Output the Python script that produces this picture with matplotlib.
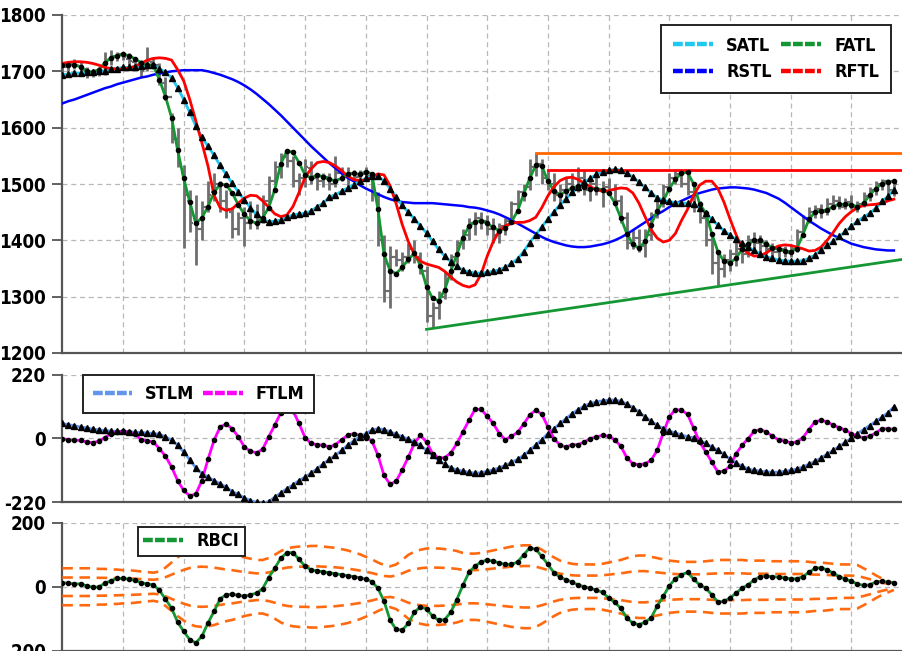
import os
import numpy as np
import matplotlib
matplotlib.use("Agg")
import matplotlib.pyplot as plt
from matplotlib.lines import Line2D
from matplotlib import font_manager as fm

# ---------- font: look for an installed condensed / narrow face ----------
def find_condensed():
    files = set(f.fname for f in fm.fontManager.ttflist)
    try:
        files |= set(fm.findSystemFonts())
    except Exception:
        pass
    files = sorted(files)
    prefs = ["liberationsansnarrow-bold", "dejavusanscondensed-bold",
             "robotocondensed-bold", "roboto_condensed-bold", "opensanscondensed-bold",
             "opensans_condensed-bold", "notosans-condensedbold", "notosanscondensed-bold"]
    for p in prefs:
        for fn in files:
            if os.path.basename(fn).lower().startswith(p):
                return fn
    for fn in files:
        b = os.path.basename(fn).lower()
        if ("condensed" in b or "narrow" in b) and "bold" in b and "italic" not in b and "oblique" not in b:
            return fn
    return None

FONT_FILE = find_condensed()
if FONT_FILE:
    fm.fontManager.addfont(FONT_FILE)
    FP = fm.FontProperties(fname=FONT_FILE)
    TICK_SIZE, LEG_SIZE = 13.5, 13
else:
    FP = fm.FontProperties(family="DejaVu Sans", weight="bold")
    TICK_SIZE, LEG_SIZE = 11.5, 12

def fprop(size):
    p = FP.copy()
    p.set_size(size)
    return p

# ---------------- data ----------------
satl = [1694,1695,1697,1697,1698,1698,1700,1701,1704,1705,
        1707,1707,1708,1710,1711,1711,1705,1698,1689,1671,
        1650,1627,1603,1583,1567,1551,1533,1517,1501,1486,
        1471,1458,1446,1437,1433,1434,1436,1441,1445,1447,
        1448,1452,1460,1466,1477,1481,1487,1493,1499,1505,
        1510,1514,1514,1505,1492,1477,1462,1450,1438,1426,
        1413,1398,1384,1372,1362,1354,1347,1344,1342,1342,
        1343,1345,1348,1352,1359,1367,1380,1396,1410,1424,
        1438,1451,1463,1474,1485,1495,1503,1510,1517,1521,
        1524,1526,1525,1520,1512,1503,1494,1484,1476,1471,
        1469,1467,1466,1466,1464,1458,1448,1437,1427,1417,
        1409,1402,1395,1388,1382,1376,1371,1368,1365,1364,
        1363,1363,1364,1368,1374,1383,1391,1398,1407,1416,
        1425,1434,1441,1448,1457,1469,1478,1490]
fatl = [1712,1712,1712,1708,1700,1699,1703,1715,1724,1728,
        1730,1728,1722,1715,1712,1711,1685,1655,1618,1560,
        1510,1468,1430,1440,1460,1485,1500,1498,1484,1463,
        1446,1435,1430,1440,1458,1490,1536,1559,1556,1538,
        1516,1511,1516,1513,1508,1506,1510,1517,1519,1517,
        1522,1518,1455,1375,1346,1341,1352,1366,1377,1355,
        1318,1297,1293,1312,1345,1375,1405,1425,1433,1435,
        1430,1423,1417,1422,1433,1452,1482,1510,1533,1532,
        1505,1488,1481,1487,1493,1496,1494,1491,1492,1490,
        1484,1467,1440,1412,1393,1386,1398,1428,1452,1470,
        1492,1508,1519,1521,1500,1465,1448,1412,1380,1363,
        1360,1368,1385,1393,1400,1400,1393,1387,1384,1381,
        1380,1385,1410,1437,1450,1452,1454,1460,1464,1464,
        1463,1460,1466,1480,1492,1500,1504,1505]
rstl = [1643,1647,1650,1654,1658,1662,1666,1670,1673,1677,
        1680,1683,1686,1689,1691,1694,1696,1698,1700,1701,
        1702,1702,1702,1702,1700,1697,1694,1690,1686,1681,
        1675,1668,1660,1651,1642,1632,1622,1611,1600,1589,
        1578,1567,1557,1547,1537,1528,1519,1511,1505,1498,
        1492,1487,1482,1477,1473,1470,1468,1467,1466,1466,
        1466,1466,1465,1464,1463,1462,1461,1459,1458,1456,
        1453,1450,1446,1441,1436,1430,1424,1418,1412,1406,
        1401,1397,1394,1391,1389,1388,1388,1389,1391,1393,
        1396,1400,1405,1411,1418,1425,1432,1439,1446,1452,
        1459,1465,1470,1475,1480,1484,1487,1490,1492,1493,
        1494,1494,1493,1492,1490,1487,1484,1479,1474,1467,
        1459,1451,1443,1435,1428,1421,1415,1409,1404,1399,
        1394,1391,1388,1386,1384,1383,1382,1382]
rftl = [1714,1716,1717,1717,1716,1714,1711,1707,1705,1704,
        1704,1706,1709,1714,1720,1723,1724,1723,1720,1703,
        1683,1650,1612,1573,1532,1480,1458,1453,1456,1466,
        1475,1480,1479,1470,1459,1447,1442,1445,1460,1485,
        1512,1527,1538,1540,1538,1532,1524,1514,1508,1506,
        1507,1512,1518,1516,1497,1465,1428,1398,1375,1363,
        1358,1355,1352,1345,1335,1326,1320,1317,1321,1340,
        1372,1398,1417,1426,1430,1432,1432,1435,1441,1458,
        1479,1495,1506,1511,1512,1508,1501,1495,1490,1487,
        1488,1491,1493,1492,1484,1466,1442,1419,1404,1397,
        1400,1412,1435,1455,1480,1498,1505,1505,1492,1468,
        1438,1410,1386,1377,1372,1373,1378,1385,1390,1392,
        1391,1388,1385,1381,1382,1388,1400,1414,1430,1442,
        1451,1458,1462,1463,1464,1466,1470,1473]

opens = [1705,1708,1712,1710,1704,1695,1700,1700,1720,1726,
         1730,1722,1716,1712,1704,1716,1712,1680,1655,1580,
         1520,1470,1440,1420,1460,1485,1500,1470,1450,1420,
         1440,1430,1445,1435,1470,1505,1530,1548,1540,1505,
         1510,1528,1510,1505,1512,1500,1520,1515,1520,1512,
         1518,1515,1480,1400,1310,1370,1365,1370,1385,1370,
         1345,1265,1280,1300,1340,1370,1395,1410,1430,1440,
         1435,1420,1410,1425,1435,1465,1485,1495,1530,1535,
         1510,1500,1480,1490,1500,1495,1510,1490,1500,1490,
         1495,1490,1470,1440,1395,1405,1390,1410,1445,1470,
         1495,1510,1518,1500,1485,1460,1440,1400,1360,1350,
         1365,1375,1385,1375,1400,1395,1390,1385,1380,1385,
         1378,1385,1415,1440,1450,1455,1450,1465,1470,1460,
         1468,1460,1465,1478,1490,1500,1505,1490]
highs = [1712,1718,1722,1716,1708,1705,1708,1735,1738,1734,
         1735,1732,1725,1720,1744,1725,1715,1690,1626,1600,
         1534,1490,1480,1470,1505,1520,1505,1490,1460,1450,
         1460,1470,1465,1480,1515,1540,1555,1560,1550,1520,
         1545,1540,1520,1520,1520,1550,1530,1530,1525,1525,
         1530,1520,1485,1410,1390,1385,1380,1395,1400,1380,
         1355,1290,1310,1345,1375,1400,1420,1440,1450,1450,
         1445,1440,1430,1440,1470,1490,1500,1545,1555,1545,
         1525,1520,1500,1510,1520,1530,1525,1510,1515,1505,
         1510,1500,1480,1450,1420,1420,1420,1450,1480,1500,
         1520,1525,1525,1520,1495,1470,1450,1410,1375,1375,
         1385,1400,1395,1410,1415,1410,1400,1395,1392,1390,
         1392,1420,1445,1460,1462,1465,1475,1480,1478,1475,
         1480,1470,1485,1495,1505,1508,1508,1505]
lows = [1695,1700,1705,1700,1688,1690,1692,1694,1712,1718,
        1720,1712,1705,1690,1700,1705,1675,1649,1573,1530,
        1387,1415,1357,1400,1450,1470,1450,1440,1405,1410,
        1390,1420,1420,1430,1465,1500,1510,1530,1495,1480,
        1495,1500,1490,1495,1490,1495,1505,1495,1505,1500,
        1505,1470,1390,1290,1280,1355,1345,1360,1360,1340,
        1255,1245,1260,1295,1330,1360,1385,1400,1410,1420,
        1410,1395,1395,1410,1430,1460,1470,1490,1515,1500,
        1490,1470,1460,1470,1480,1485,1480,1470,1480,1460,
        1480,1465,1430,1385,1385,1380,1370,1400,1440,1460,
        1485,1500,1495,1480,1450,1430,1390,1340,1320,1335,
        1345,1355,1360,1370,1380,1380,1375,1370,1370,1370,
        1370,1380,1410,1430,1440,1440,1445,1455,1455,1455,
        1455,1450,1460,1470,1480,1490,1480,1478]
closes = [1708,1712,1710,1704,1695,1700,1698,1720,1728,1730,
          1725,1718,1712,1700,1718,1712,1680,1655,1580,1540,
          1480,1430,1420,1460,1480,1500,1470,1455,1420,1440,
          1430,1450,1435,1470,1505,1530,1548,1540,1505,1510,
          1530,1510,1505,1515,1500,1520,1515,1520,1512,1520,
          1515,1480,1400,1310,1370,1365,1370,1385,1370,1345,
          1265,1280,1300,1340,1370,1395,1410,1430,1440,1435,
          1420,1410,1425,1435,1465,1485,1495,1530,1535,1510,
          1500,1480,1490,1500,1495,1510,1490,1500,1490,1495,
          1490,1470,1440,1395,1405,1390,1410,1445,1470,1495,
          1510,1518,1500,1485,1460,1440,1400,1360,1350,1365,
          1375,1385,1375,1400,1395,1390,1385,1380,1385,1378,
          1385,1415,1440,1450,1455,1450,1465,1470,1460,1468,
          1460,1465,1478,1490,1500,1505,1490,1500]

support_bars = [60, 108]
support_vals = [1242, 1318]
resist_orange = (78, 1555)
resist_red = (80, 1525)

stlm = [51,47,43,39,36,32,29,27,25,24,
        24,23,21,20,18,17,14,5,-7,-24,
        -47,-74,-102,-122,-134,-146,-157,-169,-184,-194,
        -206,-215,-221,-224,-219,-203,-189,-174,-161,-146,
        -134,-120,-105,-88,-73,-59,-42,-24,-9,5,
        16,28,33,30,22,14,5,-3,-13,-24,
        -42,-59,-76,-90,-102,-109,-113,-118,-120,-119,
        -114,-109,-102,-94,-83,-73,-59,-42,-23,-5,
        16,33,51,68,85,99,111,120,126,129,
        132,132,128,118,106,91,74,59,45,33,
        25,18,12,5,2,-7,-18,-30,-42,-55,
        -73,-85,-97,-106,-111,-113,-116,-117,-117,-114,
        -111,-106,-99,-90,-80,-68,-55,-42,-28,-14,
        1,16,30,44,58,72,88,108]
ftlm = [-1,-5,-7,-7,-13,-15,-10,2,16,22,
        24,20,13,-5,-9,-13,-36,-62,-99,-146,
        -180,-199,-192,-146,-73,-7,39,49,33,5,
        -30,-45,-50,-38,5,45,88,114,95,51,
        2,-18,-22,-24,-30,-22,-5,10,16,10,
        2,-9,-59,-128,-159,-148,-109,-65,-18,10,
        -13,-53,-68,-67,-51,-18,22,62,100,100,
        76,51,16,-5,7,20,49,80,97,83,
        39,-1,-24,-30,-22,-22,-13,-1,5,10,
        7,-5,-27,-67,-88,-91,-88,-76,-42,18,
        74,99,97,83,35,-13,-47,-82,-117,-113,
        -97,-53,-24,-1,25,30,22,7,-5,-10,
        -15,-13,2,30,57,62,57,45,37,28,
        16,7,2,7,18,33,33,31]

rbci = [13,11,9,9,3,-1,-1,11,19,26,
        26,24,20,13,9,6,-11,-39,-67,-111,
        -140,-166,-176,-155,-114,-77,-38,-25,-23,-27,
        -30,-25,-20,-6,29,58,90,107,107,86,
        64,53,50,47,44,41,38,35,32,28,
        24,16,-5,-45,-105,-134,-136,-115,-80,-63,
        -70,-92,-105,-103,-80,-40,5,45,65,78,
        84,80,75,70,70,78,100,122,118,95,
        70,44,30,22,14,6,0,-5,-10,-18,
        -35,-49,-67,-98,-114,-119,-111,-98,-61,-30,
        3,25,38,45,24,6,-4,-25,-48,-46,
        -35,-20,-4,6,22,32,34,32,30,28,
        25,25,32,45,58,60,53,43,32,24,
        17,9,4,6,15,17,15,13]
rbci_sigma = [29,29,29,29,29,29,28,28,27,27,
              26,26,25,24,23,22,24,30,38,46,
              53,59,62,63,62,60,57,54,52,49,
              46,44,42,42,45,50,56,60,62,63,
              63,64,64,63,62,61,59,57,54,51,
              47,43,38,34,32,35,42,50,55,58,
              60,60,60,59,58,56,53,52,52,53,
              55,57,59,61,63,64,65,65,63,58,
              52,46,41,38,36,35,35,35,35,36,
              38,40,42,45,48,49,49,47,45,43,
              41,40,39,39,39,39,40,41,42,42,
              42,42,42,41,41,41,41,40,40,40,
              40,40,40,39,38,38,37,36,35,35,
              35,34,29,24,18,13,9,5]
band_mult = [2, 1, -1, -2]

top_ticks = [1200, 1300, 1400, 1500, 1600, 1700, 1800]
mid_ticks = [-220, 0, 220]
bot_ticks = [-200, 0, 200]

# ---------------- layout ----------------
W_PX, H_PX = 903, 651
fig = plt.figure(figsize=(W_PX / 100, H_PX / 100), dpi=100)
L_PX = 62.3
BAR_PX = 6.07
axw_px = W_PX - L_PX + 6
def fa(top, bottom):
    return [L_PX / W_PX, (H_PX - bottom) / H_PX, axw_px / W_PX, (bottom - top) / H_PX]

ax1 = fig.add_axes(fa(15, 353))
ax2 = fig.add_axes(fa(374.5, 502))
ax3 = fig.add_axes(fa(523, 650.5))

n = len(satl)
x = np.arange(n)
xmax = axw_px / BAR_PX

GRID = dict(color="#b8b8b8", linestyle=(0, (4, 3)), linewidth=0.9)

def style(ax, ylim, yt):
    ax.set_xlim(0, xmax)
    ax.set_ylim(*ylim)
    ax.set_xticks(np.arange(10, n, 10))
    ax.set_yticks(yt)
    ax.set_yticklabels([str(v) for v in yt], fontproperties=fprop(TICK_SIZE))
    ax.tick_params(axis="x", length=0, labelbottom=False)
    ax.tick_params(axis="y", length=7, width=1.3, color="#555555", pad=5)
    ax.grid(True, **GRID)
    ax.set_axisbelow(True)
    for s in ("top", "right"):
        ax.spines[s].set_visible(False)
    for s in ("left", "bottom"):
        ax.spines[s].set_color("#555555")
        ax.spines[s].set_linewidth(1.6)

style(ax1, (1200, 1800), top_ticks)
style(ax2, (-220, 220), mid_ticks)
style(ax3, (-200, 200), bot_ticks)

# ---- top panel ----
C_SATL, C_RSTL, C_FATL, C_RFTL = "#1ec8f0", "#0000ff", "#149632", "#ff0000"
o = np.array(opens); h = np.array(highs); lo = np.array(lows); c = np.array(closes)
ax1.vlines(x, lo, h, color="#6e6e6e", linewidth=2.0, zorder=2)
ax1.hlines(o, x - 0.5, x, color="#6e6e6e", linewidth=1.6, zorder=2)
ax1.hlines(c, x, x + 0.5, color="#6e6e6e", linewidth=1.6, zorder=2)

ax1.plot(x, rstl, color=C_RSTL, lw=1.8, zorder=3)
ax1.plot(x, satl, color=C_SATL, lw=2.0, zorder=4)
ax1.plot(x, satl, linestyle="none", marker="^", ms=4.2, color="black", zorder=5)
ax1.plot(x, fatl, color=C_FATL, lw=2.0, zorder=4)
ax1.plot(x, fatl, linestyle="none", marker="o", ms=3.0, color="black", zorder=5)
ax1.plot(x, rftl, color=C_RFTL, lw=2.0, zorder=4)

slope = (support_vals[1] - support_vals[0]) / (support_bars[1] - support_bars[0])
ax1.plot([support_bars[0], xmax], [support_vals[0], support_vals[0] + slope * (xmax - support_bars[0])],
         color=C_FATL, lw=2.0, zorder=4)
ax1.plot([resist_orange[0], xmax], [resist_orange[1]] * 2, color="#ff6600", lw=2.0, zorder=4)
ax1.plot([resist_red[0], xmax], [resist_red[1]] * 2, color="#ff0000", lw=2.0, zorder=4)

def h_(col):
    return Line2D([0], [0], color=col, lw=3.2, linestyle=(0, (2.2, 0.5)))

LEG = dict(bbox_transform=fig.transFigure, fancybox=False, framealpha=1,
           edgecolor="#222222", prop=fprop(LEG_SIZE), borderaxespad=0)

leg1 = ax1.legend([h_(C_SATL), h_(C_RSTL), h_(C_FATL), h_(C_RFTL)],
                  ["SATL", "RSTL", "FATL", "RFTL"], ncol=2,
                  loc="upper right", bbox_to_anchor=(891 / W_PX, 1 - 25 / H_PX),
                  handlelength=2.2, columnspacing=0.5, labelspacing=0.45,
                  handletextpad=0.75, borderpad=0.65, **LEG)
leg1.get_frame().set_linewidth(1.4)

# ---- middle panel ----
ax2.plot(x, stlm, color="#6495ed", lw=2.0, zorder=3)
ax2.plot(x, stlm, linestyle="none", marker="^", ms=4.2, color="black", zorder=5)
ax2.plot(x, ftlm, color="#ff00ff", lw=2.0, zorder=4)
ax2.plot(x, ftlm, linestyle="none", marker="o", ms=3.0, color="black", zorder=5)
leg2 = ax2.legend([h_("#6495ed"), h_("#ff00ff")], ["STLM", "FTLM"], ncol=2,
                  loc="upper left", bbox_to_anchor=(82.7 / W_PX, 1 - 375 / H_PX),
                  handlelength=2.2, columnspacing=0.5, handletextpad=0.7,
                  borderpad=0.55, borderaxespad=0, bbox_transform=fig.transFigure,
                  fancybox=False, framealpha=1, edgecolor="#222222",
                  prop=fprop(LEG_SIZE))
leg2.get_frame().set_linewidth(1.4)

# ---- bottom panel ----
sig = np.array(rbci_sigma, dtype=float)
for m in band_mult:
    ax3.plot(x, m * sig, color="#ff6a10", lw=1.9, linestyle=(0, (4, 2.5)), zorder=3)
ax3.plot(x, rbci, color=C_FATL, lw=2.0, zorder=4)
ax3.plot(x, rbci, linestyle="none", marker="o", ms=3.0, color="black", zorder=5)
leg3 = ax3.legend([h_(C_FATL)], ["RBCI"], loc="upper left",
                  bbox_to_anchor=(138 / W_PX, 1 - 527 / H_PX),
                  handlelength=2.2, handletextpad=0.75, borderpad=0.3, **LEG)
leg3.get_frame().set_linewidth(1.4)

fig.savefig("out.png", dpi=100)
